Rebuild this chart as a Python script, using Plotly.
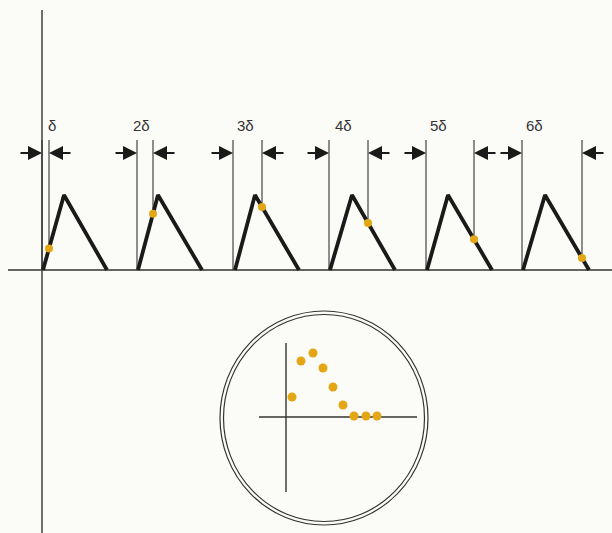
import plotly.graph_objects as go

# ---- data (diagram units = pixel-like coordinates, y grows downward) ----
tri_start = [43, 138, 235, 330, 427, 523]
tri_peak = [64, 158, 255, 352, 448, 545]
tri_end = [107, 202, 299, 395, 492, 589]
baseline_y = 270
peak_y = 195
delay_right = [49, 153, 262, 368, 474, 582]      # sampling line (k*delta after onset)
delay_left = [42, 137, 233, 329, 426, 522]       # onset line
delay_labels = ["δ", "2δ", "3δ", "4δ", "5δ", "6δ"]
label_x = [52, 141, 245, 343, 438, 534]

inner_x = [292, 301, 313, 323, 333, 343, 354, 366, 377]
inner_h = [20, 56, 64, 49, 30, 12, 1, 1, 1]
inner_origin = (286, 417)

DOT = "#E3A614"
INK = "#1a1a1a"
LINE = "#333333"
BG = "#FBFBF8"

fig = go.Figure()

def seg(xs, ys, w, c):
    fig.add_trace(go.Scatter(x=xs, y=ys, mode="lines", line=dict(color=c, width=w),
                             hoverinfo="skip", showlegend=False))

# main axes
seg([42, 42], [10, 533], 1.4, LINE)
seg([8, 612], [baseline_y, baseline_y], 1.6, LINE)

def tri_y(i, x):
    s, p, e = tri_start[i], tri_peak[i], tri_end[i]
    h = baseline_y - peak_y
    if x <= p:
        return baseline_y - h * (x - s) / (p - s)
    return baseline_y - h * (e - x) / (e - p)

dot_x, dot_y = [], []
for i in range(6):
    # vertical guide lines
    seg([delay_left[i], delay_left[i]], [140, baseline_y], 1.1, LINE)
    yd = tri_y(i, delay_right[i])
    seg([delay_right[i], delay_right[i]], [140, yd], 1.1, LINE)
    # triangle
    seg([tri_start[i], tri_peak[i], tri_end[i]], [baseline_y, peak_y, baseline_y], 3.8, INK)
    dot_x.append(delay_right[i]); dot_y.append(yd)
    fig.add_annotation(x=label_x[i], y=125, text=delay_labels[i], showarrow=False,
                       font=dict(family="Liberation Sans, Arial", size=15, color="#333"))
    # arrows
    fig.add_annotation(x=delay_left[i], y=153, ax=delay_left[i] - 23, ay=153,
                       xref="x", yref="y", axref="x", ayref="y", text="",
                       showarrow=True, arrowhead=2, arrowsize=1.4, arrowwidth=2,
                       arrowcolor=INK, standoff=0)
    fig.add_annotation(x=delay_right[i], y=153, ax=delay_right[i] + 23, ay=153,
                       xref="x", yref="y", axref="x", ayref="y", text="",
                       showarrow=True, arrowhead=2, arrowsize=1.4, arrowwidth=2,
                       arrowcolor=INK, standoff=0)

fig.add_trace(go.Scatter(x=dot_x, y=dot_y, mode="markers",
                         marker=dict(color=DOT, size=8), hoverinfo="skip", showlegend=False))

# inset circle
cx, cy, rx, ry = 324, 418, 104, 107
for d in (0, 3.5):
    fig.add_shape(type="circle", xref="x", yref="y",
                  x0=cx - rx + d, x1=cx + rx - d, y0=cy - ry + d, y1=cy + ry - d,
                  line=dict(color=LINE, width=1.2))

ox, oy = inner_origin
seg([ox, ox], [343, 492], 1.4, LINE)
seg([259, 417], [oy, oy], 1.4, LINE)
fig.add_trace(go.Scatter(x=inner_x, y=[oy - h for h in inner_h], mode="markers",
                         marker=dict(color=DOT, size=9), hoverinfo="skip", showlegend=False))

fig.update_layout(width=612, height=533, margin=dict(l=0, r=0, t=0, b=0),
                  paper_bgcolor=BG, plot_bgcolor=BG,
                  xaxis=dict(range=[0, 612], visible=False, fixedrange=True),
                  yaxis=dict(range=[533, 0], visible=False, fixedrange=True))
fig.write_html("out.html", config={"displayModeBar": False},
               post_script="document.body.style.margin='0';document.body.style.background='%s';" % BG)
